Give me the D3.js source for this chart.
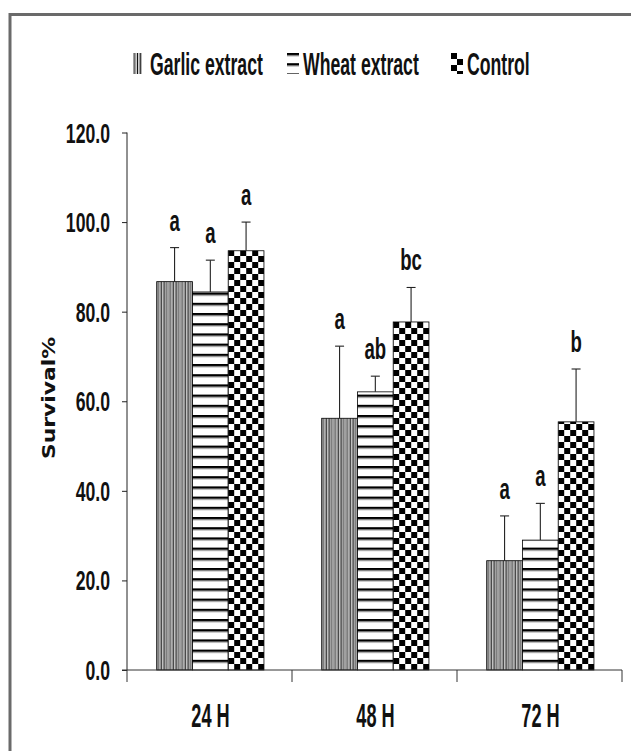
<!DOCTYPE html>
<html><head><meta charset="utf-8">
<script src="https://cdn.jsdelivr.net/npm/d3@7"></script>
<style>body{margin:0;background:#fff}svg{display:block}</style>
</head><body>
<script>
const categories = ["24 H", "48 H", "72 H"];
const seriesNames = ["Garlic extract", "Wheat extract", "Control"];
const garlic = [86.7, 56.2, 24.4];
const garlicErr = [7.6, 16.1, 10.0];
const wheat = [84.4, 62.1, 29.0];
const wheatErr = [7.1, 3.5, 8.2];
const control = [93.6, 77.7, 55.4];
const controlErr = [6.4, 7.7, 11.8];
const garlicLetters = ["a", "a", "a"];
const wheatLetters = ["a", "ab", "a"];
const controlLetters = ["a", "bc", "b"];
const yTicks = [0, 20, 40, 60, 80, 100, 120];

const values = [garlic, wheat, control];
const errs = [garlicErr, wheatErr, controlErr];
const letters = [garlicLetters, wheatLetters, controlLetters];

const W = 631, H = 751;
const FONT = "'Liberation Sans', Arial, sans-serif";
const svg = d3.select("body").append("svg").attr("width", W).attr("height", H);
const defs = svg.append("defs");

// frame
svg.append("rect").attr("x", 10).attr("y", 14.5).attr("width", 640).attr("height", 760)
  .attr("fill", "none").attr("stroke", "#6a6a6a").attr("stroke-width", 3);

const x0 = d3.scaleBand().domain(categories).range([127, 622]).padding(0);
const bw = x0.bandwidth();
const x1 = d3.scaleBand().domain(seriesNames).range([bw * 0.18, bw * 0.83]).padding(0);
const y = d3.scaleLinear().domain([0, 120]).range([670, 132.5]);

function label(parent, x, yy, txt, opts) {
  const g = parent.append("g").attr("transform", `translate(${x},${yy}) scale(${opts.k},1)`);
  return g.append("text").attr("x", 0).attr("y", 0)
    .attr("text-anchor", opts.anchor || "start")
    .attr("font-family", opts.family || FONT)
    .attr("font-weight", opts.weight || "bold")
    .attr("font-size", opts.size).attr("fill", "#111").text(txt);
}

function makePattern(id, si, px, py) {
  if (si === 0) {
    const p = defs.append("pattern").attr("id", id).attr("patternUnits", "userSpaceOnUse")
      .attr("x", px).attr("y", 0).attr("width", 12).attr("height", 10);
    p.append("rect").attr("width", 12).attr("height", 10).attr("fill", "#fff");
    [[0.6, 1.0], [2.6, 0.6], [4.0, 1.0], [5.8, 0.6], [7.2, 1.1], [9.2, 0.6], [10.6, 0.8]].forEach(([lx, lw]) => {
      p.append("rect").attr("x", lx).attr("y", 0).attr("width", lw).attr("height", 10).attr("fill", "#111");
    });
  } else if (si === 1) {
    const p = defs.append("pattern").attr("id", id).attr("patternUnits", "userSpaceOnUse")
      .attr("x", 0).attr("y", py).attr("width", 10).attr("height", 10.2);
    p.append("rect").attr("width", 10).attr("height", 10.2).attr("fill", "#fff");
    p.append("rect").attr("x", 0).attr("y", 0).attr("width", 10).attr("height", 2.4).attr("fill", "#000");
    p.append("rect").attr("x", 0).attr("y", 2.4).attr("width", 10).attr("height", 0.8).attr("fill", "#888");
  } else {
    const c = 6;
    const p = defs.append("pattern").attr("id", id).attr("patternUnits", "userSpaceOnUse")
      .attr("x", px).attr("y", py).attr("width", 2 * c).attr("height", 2 * c);
    p.append("rect").attr("width", 2 * c).attr("height", 2 * c).attr("fill", "#fff");
    p.append("rect").attr("x", 0).attr("y", 0).attr("width", c).attr("height", c).attr("fill", "#000");
    p.append("rect").attr("x", c).attr("y", c).attr("width", c).attr("height", c).attr("fill", "#000");
  }
}

const rows = [];
categories.forEach((c, ci) => {
  seriesNames.forEach((s, si) => {
    rows.push({ c, ci, s, si, v: values[si][ci], e: errs[si][ci], l: letters[si][ci] });
  });
});
rows.forEach(d => {
  d.x = x0(d.c) + x1(d.s);
  d.id = "pat" + d.ci + "_" + d.si;
  makePattern(d.id, d.si, d.x, y(0));
});

// bars
svg.append("g").selectAll("rect").data(rows).join("rect")
  .attr("x", d => d.x).attr("y", d => y(d.v))
  .attr("width", x1.bandwidth()).attr("height", d => y(0) - y(d.v))
  .attr("fill", d => `url(#${d.id})`)
  .attr("stroke", "#000").attr("stroke-width", 0.8);

// error bars
const eg = svg.append("g").attr("stroke", "#222").attr("stroke-width", 1.1);
rows.forEach(d => {
  const cx = d.x + x1.bandwidth() / 2;
  eg.append("line").attr("x1", cx).attr("x2", cx).attr("y1", y(d.v)).attr("y2", y(d.v + d.e));
  eg.append("line").attr("x1", cx - 4.5).attr("x2", cx + 4.5).attr("y1", y(d.v + d.e)).attr("y2", y(d.v + d.e));
});

// significance letters
const lg = svg.append("g");
rows.forEach(d => {
  label(lg, d.x + x1.bandwidth() / 2, y(d.v + d.e) - 17, d.l,
    { k: 0.64, size: 29, anchor: "middle" });
});

// y axis
const yAxis = svg.append("g").attr("transform", "translate(127,0)")
  .call(d3.axisLeft(y).tickValues(yTicks).tickSize(5).tickFormat(""));
yAxis.select(".domain").attr("stroke", "#222").attr("d", "M0,132.5V670");
yAxis.selectAll(".tick line").attr("stroke", "#222");
const tg = svg.append("g");
yTicks.forEach(t => {
  label(tg, 110, y(t) + 10, d3.format(".1f")(t), { k: 0.63, size: 28, anchor: "end" });
});

// x axis
const xAxis = svg.append("g").attr("transform", "translate(0,670)");
xAxis.append("line").attr("x1", 122).attr("x2", 622).attr("y1", 0).attr("y2", 0).attr("stroke", "#333");
const bounds = categories.map(c => x0(c)).concat([x0(categories[categories.length - 1]) + bw]);
xAxis.selectAll("line.tk").data(bounds).join("line").attr("class", "tk")
  .attr("x1", d => d).attr("x2", d => d).attr("y1", 0).attr("y2", 12).attr("stroke", "#333");
categories.forEach(c => {
  label(svg, x0(c) + bw / 2 + 1, 727, c, { k: 0.55, size: 33, anchor: "middle" });
});

// y label
svg.append("text").attr("transform", "translate(55,398) rotate(-90)")
  .attr("text-anchor", "middle").attr("fill", "#111")
  .attr("font-family", "'DejaVu Sans', Verdana, sans-serif").attr("font-weight", "bold")
  .attr("font-size", 17).attr("textLength", 122).attr("lengthAdjust", "spacingAndGlyphs")
  .text("Survival%");

// legend
const legX = [133, 287, 451];
const legTextX = [150, 303, 467];
const legW = [9, 12, 12];
seriesNames.forEach((s, i) => {
  const id = "leg" + i;
  makePattern(id, i, legX[i], 53);
  svg.append("rect").attr("x", legX[i]).attr("y", 53).attr("width", legW[i]).attr("height", 21)
    .attr("fill", `url(#${id})`);
  label(svg, legTextX[i], 75, s, { k: 0.57, size: 31 });
});
</script>
</body></html>
